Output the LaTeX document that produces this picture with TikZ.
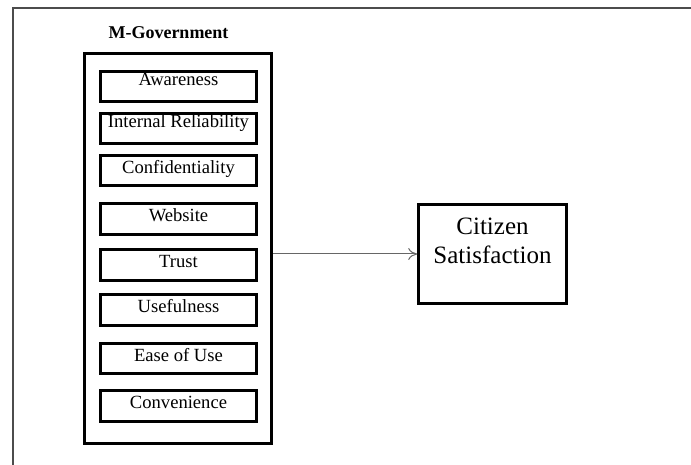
\documentclass[tikz,border=0pt]{standalone}
\usepackage{fontspec}
\setmainfont{Liberation Serif}
\usetikzlibrary{arrows.meta}

\begin{document}
\begin{tikzpicture}[x=1pt, y=-1pt,
        factor/.style={draw, line width=2.6pt, minimum width=156pt, inner ysep=0pt,
            text height=18pt, text depth=12.5pt, font=\fontsize{18.6}{21}\selectfont},
        factortop/.style={factor, text height=14.5pt, text depth=16pt},
        group/.style={draw, line width=2.6pt, minimum width=187pt, minimum height=390pt},
        outcome/.style={draw, line width=2.6pt, minimum width=148pt, inner ysep=0pt, align=center,
            text height=59.5pt, text depth=39.5pt, font=\fontsize{25}{29}\selectfont}]
        \useasboundingbox (0,0) rectangle (691,465);
        % page frame, only top and left edges show
        \draw [line width=1.4pt, color=black!70] (691,8) -- (13,8) -- (13,465);
        \node [anchor=base, font=\bfseries\fontsize{18}{20}\selectfont] (title) at (168.5,39) {M-Government};
        \node [group] (mgov) at (178.25,248.5) {};
        \node [factortop] (aware) at (178.5,86.5) {Awareness};
        \node [factortop] (reliab) at (178.5,128.5) {Internal Reliability};
        \node [factor] (confid) at (178.5,170.5) {Confidentiality};
        \node [factor] (website) at (178.5,219) {Website};
        \node [factor] (trust) at (178.5,265) {Trust};
        \node [factor] (useful) at (178.5,310) {Usefulness};
        \node [factor] (ease) at (178.5,358.5) {Ease of Use};
        \node [factor] (conven) at (178.5,406) {Convenience};
        \node [outcome] (citizen) at (492.5,254) {Citizen\\Satisfaction};
        \draw [line width=1pt, color=black!60, -{To[length=9pt, width=12pt]}] (citizen.west -| mgov.east) -- (citizen.west);
        \end{tikzpicture}
\end{document}
